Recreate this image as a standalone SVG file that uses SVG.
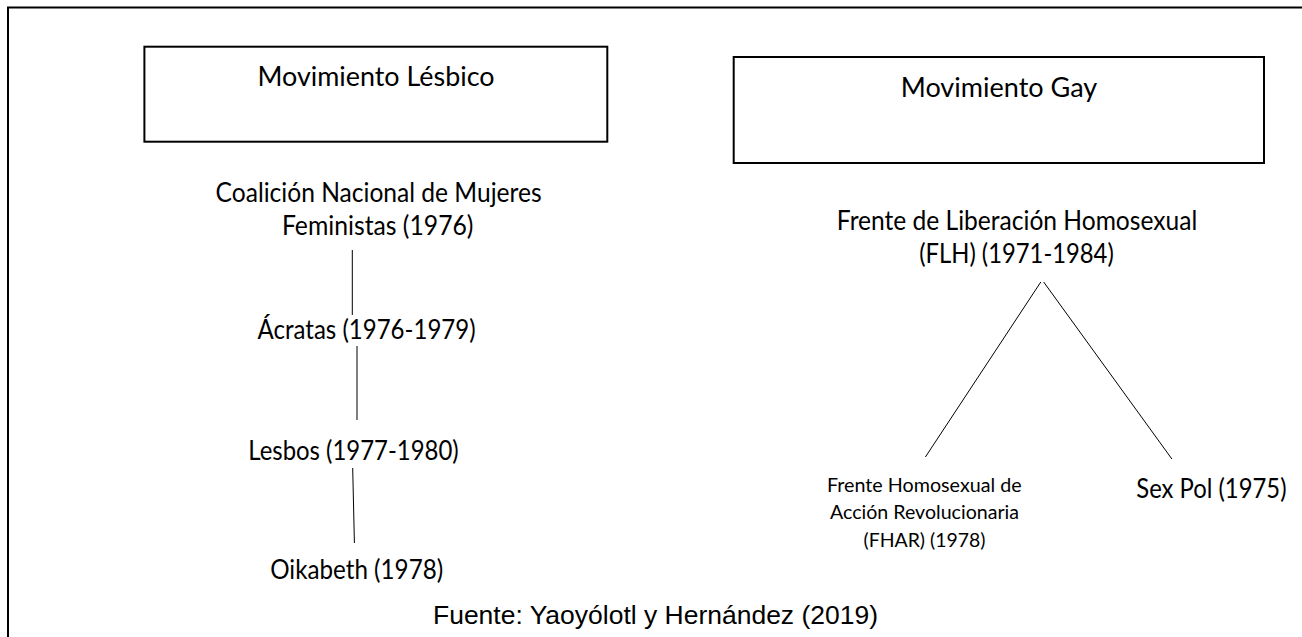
<svg xmlns="http://www.w3.org/2000/svg" width="1302" height="637" viewBox="0 0 1302 637">
<style>
.t{font-family:Lato,"Liberation Sans",sans-serif;font-size:26px;fill:#000;text-anchor:middle}
.s{font-family:Lato,"Liberation Sans",sans-serif;font-size:19.5px;fill:#000;text-anchor:middle}
.f{font-family:"Liberation Sans",Arial,sans-serif;font-size:26.3px;fill:#000}
.box{fill:#fff;stroke:#000;stroke-width:2}
.ln{stroke:#000;stroke-width:1;fill:none}
</style>
<rect width="1302" height="637" fill="#fff"/>
<rect x="8" y="7.5" width="1400" height="700" fill="none" stroke="#000" stroke-width="2"/>
<g id="connectors">
<line class="ln" x1="352.3" y1="250" x2="352.3" y2="315"/>
<line class="ln" x1="357" y1="346" x2="357" y2="420"/>
<line class="ln" x1="352.7" y1="468" x2="354.4" y2="543"/>
<line class="ln" x1="1040.8" y1="282" x2="925.4" y2="457"/>
<line class="ln" x1="1043.7" y1="282" x2="1171.9" y2="459"/>
</g>
<g id="lesbico">
<rect class="box" x="144.4" y="46.7" width="462.9" height="95"/>
<text class="t" x="376" y="86" textLength="237" lengthAdjust="spacingAndGlyphs">Movimiento Lésbico</text>
</g>
<g id="gay">
<rect class="box" x="733.7" y="57" width="530.3" height="106"/>
<text class="t" x="999" y="97" textLength="196.5" lengthAdjust="spacingAndGlyphs">Movimiento Gay</text>
</g>
<g id="coalicion">
<text class="t" x="378.6" y="202" textLength="326" lengthAdjust="spacingAndGlyphs">Coalición Nacional de Mujeres</text>
<text class="t" x="377.7" y="235" textLength="191.5" lengthAdjust="spacingAndGlyphs">Feministas (1976)</text>
</g>
<g id="acratas"><text class="t" x="366.6" y="339" textLength="218" lengthAdjust="spacingAndGlyphs">Ácratas (1976-1979)</text></g>
<g id="lesbos"><text class="t" x="353.5" y="460" textLength="210.5" lengthAdjust="spacingAndGlyphs">Lesbos (1977-1980)</text></g>
<g id="oikabeth"><text class="t" x="356.7" y="579" textLength="173" lengthAdjust="spacingAndGlyphs">Oikabeth (1978)</text></g>
<g id="flh">
<text class="t" x="1017" y="230" textLength="360.4" lengthAdjust="spacingAndGlyphs">Frente de Liberación Homosexual</text>
<text class="t" x="1016.5" y="263" textLength="194.5" lengthAdjust="spacingAndGlyphs">(FLH) (1971-1984)</text>
</g>
<g id="fhar">
<text class="s" x="924.3" y="492" textLength="194.6" lengthAdjust="spacingAndGlyphs">Frente Homosexual de</text>
<text class="s" x="924.5" y="519" textLength="189" lengthAdjust="spacingAndGlyphs">Acción Revolucionaria</text>
<text class="s" x="924.5" y="547" textLength="122" lengthAdjust="spacingAndGlyphs">(FHAR) (1978)</text>
</g>
<g id="sexpol"><text class="t" x="1211.4" y="498" textLength="150.2" lengthAdjust="spacingAndGlyphs">Sex Pol (1975)</text></g>
<g id="fuente"><text class="f" x="433" y="624" textLength="445" lengthAdjust="spacingAndGlyphs">Fuente: Yaoyólotl y Hernández (2019)</text></g>
</svg>
